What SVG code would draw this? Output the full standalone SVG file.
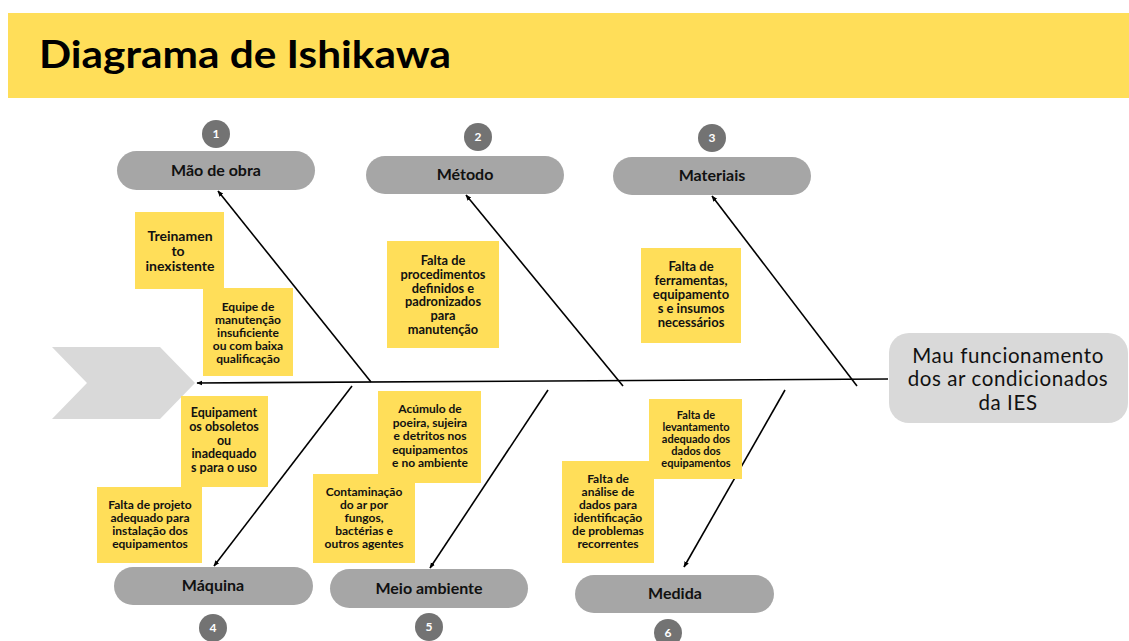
<svg xmlns="http://www.w3.org/2000/svg" width="1129" height="641" viewBox="0 0 1129 641">
<style>
.band{fill:#FFDE59}
.title{font-family:Lato,"Liberation Sans",sans-serif;font-weight:700;font-size:38px;fill:#000}
.pill{fill:#A6A6A6}
.pilltxt{font-family:Lato,"Liberation Sans",sans-serif;font-weight:700;font-size:16px;fill:#111;text-anchor:middle}
.num{fill:#737373}
.numtxt{font-family:Lato,"Liberation Sans",sans-serif;font-weight:700;font-size:12px;fill:#fff;text-anchor:middle}
.note{fill:#FFDE59}
.notetxt{font-family:Lato,"Liberation Sans",sans-serif;font-weight:700;font-size:12px;fill:#111;text-anchor:middle}
.bone{stroke:#000;stroke-width:1.6;fill:none}
.head{fill:#D9D9D9}
.headtxt{font-family:Lato,"Liberation Sans",sans-serif;font-size:20.5px;letter-spacing:0.6px;fill:#111;text-anchor:middle}
</style>
<defs>
<marker id="ah" viewBox="0 0 10 10" refX="9" refY="5" markerWidth="6" markerHeight="6" orient="auto" markerUnits="userSpaceOnUse">
<path d="M0,1 L10,5 L0,9 z" fill="#000"/>
</marker>
</defs>
<rect width="1129" height="641" fill="#fff"/>
<g id="header">
<rect class="band" x="8" y="13" width="1121" height="85"/>
<text class="title" x="39" y="68" textLength="412" lengthAdjust="spacingAndGlyphs">Diagrama de Ishikawa</text>
</g>
<g id="tail">
<polygon points="52,347 160,347 195,383 160,419 52,419 87,383" fill="#D9D9D9"/>
</g>
<g id="connectors">
<line class="bone" x1="888" y1="379" x2="197" y2="383" marker-end="url(#ah)"/>
<line class="bone" x1="371" y1="382" x2="218" y2="191" marker-end="url(#ah)"/>
<line class="bone" x1="623" y1="386" x2="466" y2="195" marker-end="url(#ah)"/>
<line class="bone" x1="857" y1="386" x2="712" y2="196" marker-end="url(#ah)"/>
<line class="bone" x1="352" y1="386" x2="214" y2="566" marker-end="url(#ah)"/>
<line class="bone" x1="548" y1="390" x2="430" y2="568" marker-end="url(#ah)"/>
<line class="bone" x1="785" y1="390" x2="684" y2="567" marker-end="url(#ah)"/>
</g>
<g id="effect">
<rect class="head" x="889" y="333" width="239" height="90" rx="20"/>
<text class="headtxt" x="1008" y="362.5">Mau funcionamento</text>
<text class="headtxt" x="1008" y="386">dos ar condicionados</text>
<text class="headtxt" x="1008" y="409.5">da IES</text>
</g>
<g id="cat-mao-de-obra">
<circle class="num" cx="216" cy="134" r="14"/>
<text class="numtxt" x="216" y="138">1</text>
<rect class="pill" x="117" y="151" width="198" height="39" rx="19.5"/>
<text class="pilltxt" x="216" y="176">Mão de obra</text>
</g>
<g id="cat-metodo">
<circle class="num" cx="478" cy="137" r="14"/>
<text class="numtxt" x="478" y="141">2</text>
<rect class="pill" x="366" y="156" width="198" height="38" rx="19"/>
<text class="pilltxt" x="465" y="180">Método</text>
</g>
<g id="cat-materiais">
<circle class="num" cx="712" cy="138" r="14"/>
<text class="numtxt" x="712" y="142">3</text>
<rect class="pill" x="613" y="157" width="198" height="38" rx="19"/>
<text class="pilltxt" x="712" y="181">Materiais</text>
</g>
<g id="cat-maquina">
<rect class="pill" x="114" y="567" width="199" height="38" rx="19"/>
<text class="pilltxt" x="213" y="591">Máquina</text>
<circle class="num" cx="213" cy="628" r="14"/>
<text class="numtxt" x="213" y="632">4</text>
</g>
<g id="cat-meio-ambiente">
<rect class="pill" x="330" y="569" width="198" height="39" rx="19.5"/>
<text class="pilltxt" x="429" y="594">Meio ambiente</text>
<circle class="num" cx="429" cy="627" r="14"/>
<text class="numtxt" x="429" y="631">5</text>
</g>
<g id="cat-medida">
<rect class="pill" x="575" y="575" width="199" height="38" rx="19"/>
<text class="pilltxt" x="675" y="599">Medida</text>
<circle class="num" cx="668" cy="633" r="14"/>
<text class="numtxt" x="668" y="637">6</text>
</g>
<g id="note-treinamento">
<rect class="note" x="135" y="212" width="89" height="77"/>
<text class="notetxt" style="font-size:14px" x="180" y="241">Treinamen</text>
<text class="notetxt" style="font-size:14px" x="178" y="256">to</text>
<text class="notetxt" style="font-size:14px" x="180" y="271">inexistente</text>
</g>
<g id="note-equipe">
<rect class="note" x="203" y="288" width="90" height="88"/>
<text class="notetxt" x="248" y="311">Equipe de</text>
<text class="notetxt" x="248" y="324">manutenção</text>
<text class="notetxt" x="248" y="337">insuficiente</text>
<text class="notetxt" x="248" y="350">ou com baixa</text>
<text class="notetxt" x="248" y="363">qualificação</text>
</g>
<g id="note-procedimentos">
<rect class="note" x="387" y="241" width="112" height="107"/>
<text class="notetxt" style="font-size:12.8px" x="443" y="265">Falta de</text>
<text class="notetxt" style="font-size:12.8px" x="443" y="278.8">procedimentos</text>
<text class="notetxt" style="font-size:12.8px" x="443" y="292.6">definidos e</text>
<text class="notetxt" style="font-size:12.8px" x="443" y="306.4">padronizados</text>
<text class="notetxt" style="font-size:12.8px" x="443" y="320.2">para</text>
<text class="notetxt" style="font-size:12.8px" x="443" y="334">manutenção</text>
</g>
<g id="note-ferramentas">
<rect class="note" x="641" y="248" width="100" height="95"/>
<text class="notetxt" style="font-size:13px" x="691" y="271">Falta de</text>
<text class="notetxt" style="font-size:13px" x="691" y="285">ferramentas,</text>
<text class="notetxt" style="font-size:13px" x="691" y="299">equipamento</text>
<text class="notetxt" style="font-size:13px" x="691" y="313">s e insumos</text>
<text class="notetxt" style="font-size:13px" x="691" y="327">necessários</text>
</g>
<g id="note-obsoletos">
<rect class="note" x="181" y="396" width="87" height="91"/>
<text class="notetxt" style="font-size:12.5px" x="224" y="417">Equipament</text>
<text class="notetxt" style="font-size:12.5px" x="224" y="430.75">os obsoletos</text>
<text class="notetxt" style="font-size:12.5px" x="224" y="444.5">ou</text>
<text class="notetxt" style="font-size:12.5px" x="224" y="458.25">inadequado</text>
<text class="notetxt" style="font-size:12.5px" x="224" y="472">s para o uso</text>
</g>
<g id="note-projeto">
<rect class="note" x="97" y="487" width="105" height="76"/>
<text class="notetxt" x="150" y="509">Falta de projeto</text>
<text class="notetxt" x="150" y="522">adequado para</text>
<text class="notetxt" x="150" y="535">instalação dos</text>
<text class="notetxt" x="150" y="548">equipamentos</text>
</g>
<g id="note-poeira">
<rect class="note" x="378" y="391" width="103" height="92"/>
<text class="notetxt" x="430" y="413">Acúmulo de</text>
<text class="notetxt" x="430" y="426.5">poeira, sujeira</text>
<text class="notetxt" x="430" y="440">e detritos nos</text>
<text class="notetxt" x="430" y="453.5">equipamentos</text>
<text class="notetxt" x="430" y="467">e no ambiente</text>
</g>
<g id="note-contaminacao">
<rect class="note" x="313" y="474" width="102" height="89"/>
<text class="notetxt" x="364" y="496">Contaminação</text>
<text class="notetxt" x="364" y="509">do ar por</text>
<text class="notetxt" x="364" y="522">fungos,</text>
<text class="notetxt" x="364" y="535">bactérias e</text>
<text class="notetxt" x="364" y="548">outros agentes</text>
</g>
<g id="note-analise">
<rect class="note" x="562" y="461" width="92" height="102"/>
<text class="notetxt" x="608" y="483">Falta de</text>
<text class="notetxt" x="608" y="496">análise de</text>
<text class="notetxt" x="608" y="509">dados para</text>
<text class="notetxt" x="608" y="522">identificação</text>
<text class="notetxt" x="608" y="535">de problemas</text>
<text class="notetxt" x="608" y="548">recorrentes</text>
</g>
<g id="note-levantamento">
<rect class="note" x="649" y="399" width="93" height="80"/>
<text class="notetxt" style="font-size:11px" x="696" y="419">Falta de</text>
<text class="notetxt" style="font-size:11px" x="696" y="431">levantamento</text>
<text class="notetxt" style="font-size:11px" x="696" y="443">adequado dos</text>
<text class="notetxt" style="font-size:11px" x="696" y="455">dados dos</text>
<text class="notetxt" style="font-size:11px" x="696" y="467">equipamentos</text>
</g>
</svg>
